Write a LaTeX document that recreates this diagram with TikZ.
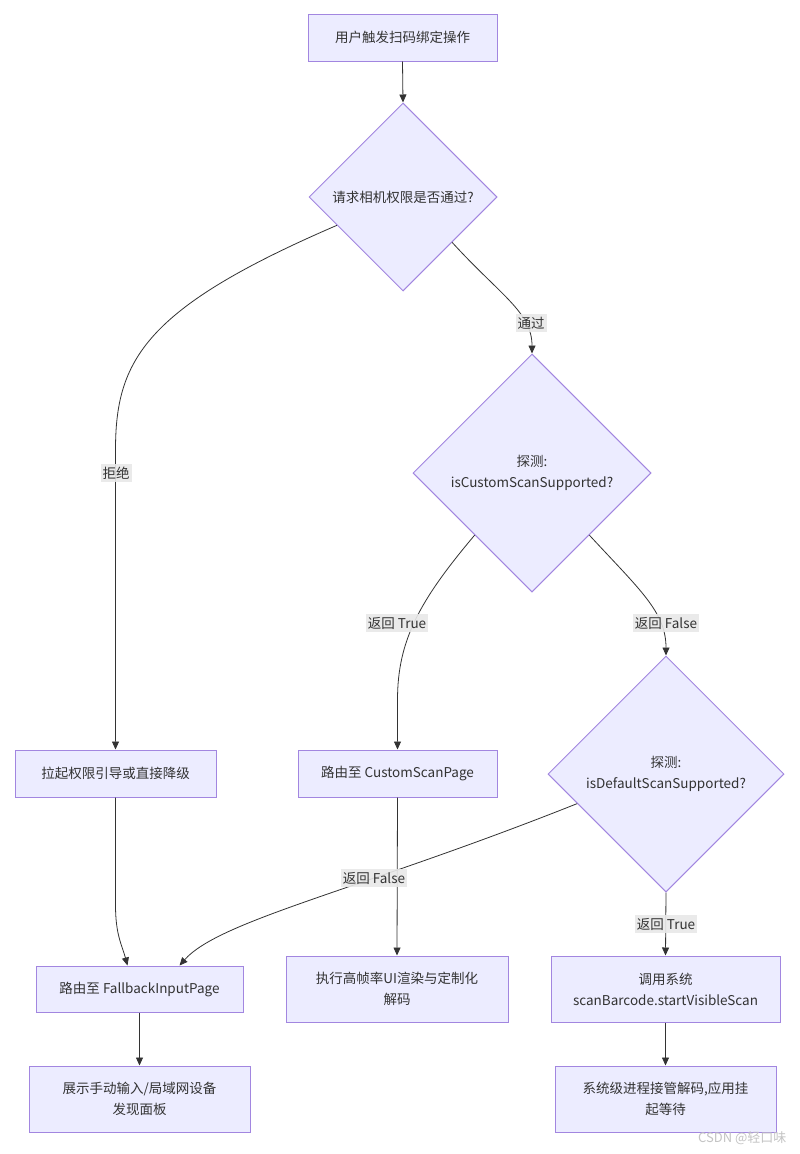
\documentclass[tikz,border=0pt]{standalone}
\usepackage{fontspec}
\setmainfont{Noto Sans CJK SC}
\usetikzlibrary{shapes.geometric,arrows.meta,calc}
\definecolor{nodefill}{HTML}{ECECFF}
\definecolor{nodeline}{HTML}{A286E0}
\definecolor{edgecol}{HTML}{333333}
\definecolor{lblfill}{HTML}{E8E8E8}
\definecolor{txt}{HTML}{333333}
\definecolor{wm}{HTML}{C4C4C4}
\begin{document}
\begin{tikzpicture}[x=1pt,y=-1pt,
  fnt/.style={font=\fontsize{13.5}{21}\selectfont},
  box/.style={draw=nodeline, fill=nodefill, line width=1pt, text=txt, align=center, inner sep=0pt, fnt},
  dia/.style={shape=diamond, draw=nodeline, fill=nodefill, line width=1pt, text=txt, align=center, inner sep=0pt, fnt},
  edge/.style={draw=edgecol, line width=0.8pt, -{Triangle[length=8pt,width=7pt]}},
  lbl/.style={fill=lblfill, fill opacity=0.9, text opacity=1, text=txt, inner xsep=2pt, inner ysep=2.5pt, fnt}]
\useasboundingbox (0,0) rectangle (800,1154);
\fill[white] (0,0) rectangle (800,1154);

% nodes
\node[box, minimum width=189, minimum height=47] (top) at (402.5,37.5) {用户触发扫码绑定操作};
\node[dia, minimum width=188, minimum height=188] (d1) at (403,197) {请求相机权限是否通过?};
\node[dia, minimum width=238, minimum height=238] (d2) at (532,473) {探测:\\isCustomScanSupported?};
\node[dia, minimum width=236, minimum height=236] (d3) at (666,774) {探测:\\isDefaultScanSupported?};
\node[box, minimum width=201, minimum height=47] (lq) at (115.5,773.5) {拉起权限引导或直接降级};
\node[box, minimum width=199, minimum height=47] (csp) at (397.5,773.5) {路由至 CustomScanPage};
\node[box, minimum width=207, minimum height=46] (fb) at (139.5,989) {路由至 FallbackInputPage};
\node[box, minimum width=222, minimum height=66] (exec) at (397,989) {执行高帧率UI渲染与定制化\\解码};
\node[box, minimum width=229, minimum height=66] (call) at (665.5,989) {调用系统\\scanBarcode.startVisibleScan};
\node[box, minimum width=221, minimum height=66] (show) at (139.5,1099) {展示手动输入/局域网设备\\发现面板};
\node[box, minimum width=221, minimum height=66] (sys) at (665.5,1099) {系统级进程接管解码,应用挂\\起等待};

% edges
\draw[edge] (top.south) -- (d1.north);
\draw[edge] ($(d1.west)!0.3!(d1.south)$) .. controls (145,308) and (115.5,360) .. (115.5,450) -- (lq.north);
\draw[edge] ($(d1.east)!0.48!(d1.south)$) .. controls (500,295) and (532,312) .. (d2.north);
\draw[edge] ($(d2.west)!0.52!(d2.south)$) .. controls (420,600) and (397.5,640) .. (397.5,700) -- (csp.north);
\draw[edge] ($(d2.east)!0.52!(d2.south)$) .. controls (640,590) and (666,612) .. (d3.north);
\draw[edge] ($(d3.west)!0.25!(d3.south)$) .. controls (360,890) and (220,920) .. ($(fb.north west)+(144,0)$);
\draw[edge] (lq.south) -- (115.5,905) .. controls (115.5,935) and (122,945) .. ($(fb.north west)+(92,0)$);
\draw[edge] (csp.south) -- (exec.north);
\draw[edge] (d3.south) -- (call.north);
\draw[edge] (fb.south) -- (show.north);
\draw[edge] (call.south) -- (sys.north);

% edge labels
\node[lbl] (l1) at (116,473) {拒绝};
\node[lbl] (l2) at (531,323) {通过};
\node[lbl] (l3) at (397,623) {返回 True};
\node[lbl] (l4) at (666,623) {返回 False};
\node[lbl] (l5) at (374,878) {返回 False};
\node[lbl] (l6) at (666,924) {返回 True};

% watermark
\node[text=wm, font=\fontsize{13}{15}\selectfont, anchor=east] (wmk) at (790,1138) {CSDN @轻口味};
\end{tikzpicture}
\end{document}
